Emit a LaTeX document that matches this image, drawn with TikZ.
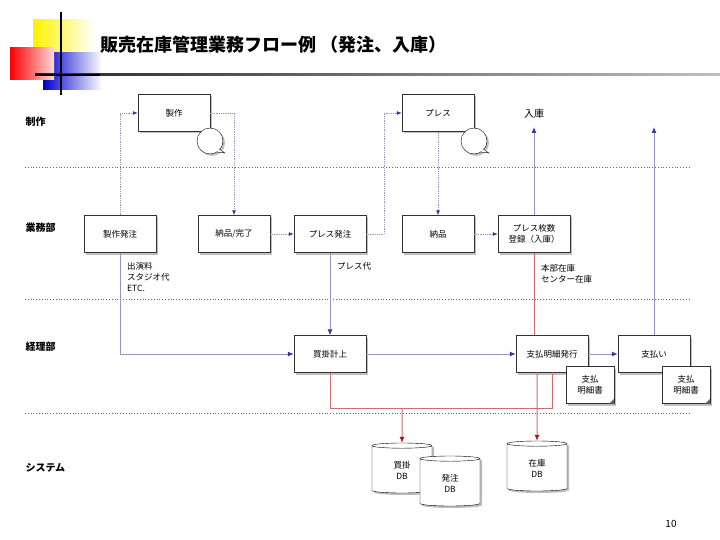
\documentclass[tikz,border=0pt]{standalone}
\usepackage{fontspec}
\setmainfont{Noto Sans CJK JP}
\usetikzlibrary{shapes.geometric,shadows,arrows.meta}
\definecolor{ln}{RGB}{150,150,195}
\definecolor{tipb}{RGB}{55,55,150}
\definecolor{rl}{RGB}{205,110,110}
\definecolor{tipr}{RGB}{170,20,20}
\begin{document}
\begin{tikzpicture}[x=1pt,y=-1pt,
 shd/.style={drop shadow={shadow xshift=2pt,shadow yshift=-2pt,opacity=0.5}},
 box/.style={draw=black!80,fill=white,minimum width=72pt,minimum height=37pt,font=\fontsize{8.5}{11}\selectfont,align=center,shd},
 doc/.style={draw=black!80,fill=white,minimum width=48pt,minimum height=37pt,font=\fontsize{8.5}{11}\selectfont,align=center,shd},
 db/.style={cylinder,shape border rotate=90,aspect=0.22,draw=black,fill=white,minimum width=60pt,minimum height=50pt,font=\fontsize{8.5}{11}\selectfont,align=center,shd},
 dot/.style={draw=ln,densely dotted,thick,-{Latex[length=5pt,width=4pt,color=tipb]}},
 sol/.style={draw=ln,line width=1pt,-{Latex[length=6pt,width=5pt,color=tipb]}},
 red/.style={draw=rl,line width=1pt},
 redarr/.style={draw=rl,line width=1pt,-{Latex[length=6pt,width=5pt,color=tipr]}},
 lane/.style={font=\fontsize{10}{12}\selectfont\bfseries,anchor=west},
 note/.style={font=\fontsize{8.5}{11}\selectfont,anchor=north west,align=left,inner sep=0pt},
 sep/.style={draw=black!60,dotted,thick}]
\useasboundingbox (0,0) rectangle (720,540);
% decoration
\shade[left color=yellow!90!orange,right color=white] (33,20) rectangle (95,55);
\shade[left color=blue!80!black,right color=white] (43,53) rectangle (102,90);
\shade[left color=red,right color=red!15] (10,48) rectangle (54,80);
\draw[line width=1.2pt] (61,12) -- (61,95);
\shade[left color=black!85,right color=black!25] (35,74) rectangle (720,76);
\draw[line width=1.2pt] (35,75) -- (100,75);
\node[anchor=west,font=\fontsize{18}{20}\selectfont\bfseries] (title) at (97,45) {販売在庫管理業務フロー例 （発注、入庫）};
% lanes
\node[lane] (l1) at (22,122) {制作};
\node[lane] (l2) at (22,228) {業務部};
\node[lane] (l3) at (22,347) {経理部};
\node[lane] (l4) at (22,468) {システム};
\draw[sep] (25,167) -- (690,167);
\draw[sep] (25,299) -- (690,299);
\draw[sep] (25,413) -- (690,413);
% boxes
\node[box] (seisaku) at (174,113) {製作};
\node[box] (press) at (438,113) {プレス};
\foreach \c in {210,474}{
 \draw[fill=white,shd] (\c,141) circle (13);
 \draw[fill=white] (\c+9,149) -- (\c+15,153) -- (\c+7,152);
}
\node[box] (hachu) at (120,234) {製作発注};
\node[box] (kanryo) at (234,234) {納品/完了};
\node[box] (phachu) at (330,234) {プレス発注};
\node[box] (nohin) at (438,234) {納品};
\node[box] (toroku) at (534,234) {プレス枚数\\登録（入庫）};
\node[box] (kaikake) at (330,354) {買掛計上};
\node[box] (meisai) at (552,354) {支払明細発行};
\node[box] (shiharai) at (654,354) {支払い};
\node[doc] (doc1) at (590,385) {支払\\明細書};
\node[doc] (doc2) at (686,385) {支払\\明細書};
\foreach \d in {doc1,doc2}{\fill[black!60] ([xshift=-5pt]\d.south east) -- ([yshift=5pt]\d.south east) -- (\d.south east) -- cycle;}
\node[db] (dbk) at (402,470) {買掛\\DB};
\node[db] (dbh) at (450,483) {発注\\DB};
\node[db] (dbz) at (537,468) {在庫\\DB};
% coordinates
\coordinate (nyuko) at (534,127);
\coordinate (top2) at (654,127);
\node[font=\fontsize{10}{12}\selectfont] (nyukol) at (534,114) {入庫};
% dotted flow
\draw[dot] (hachu.north) |- (seisaku.west);
\draw[dot] (seisaku.east) -| (kanryo.north);
\draw[dot] (kanryo) -- (phachu);
\draw[dot] (phachu.east) -- (384,234) |- (press.west);
\draw[dot] (press) -- (nohin);
\draw[dot] (nohin) -- (toroku);
% solid
\draw[sol] (toroku.north) -- (nyuko);
\draw[sol] (hachu.south) |- (kaikake.west);
\draw[sol] (phachu) -- (kaikake);
\draw[sol] (kaikake) -- (meisai);
\draw[sol] (meisai) -- (shiharai);
\draw[sol] (shiharai.north) -- (top2);
% red
\draw[red] (toroku.south) -- (534,335);
\draw[red] (kaikake.south) -- (330,408) -- (552,408) -- (552,372);
\draw[redarr] (402,408) -- (dbk.north);
\draw[redarr] (537,372) -- (dbz.north);
% notes
\node[note] (n1) at (127,262) {出演料\\スタジオ代\\ETC.};
\node[note] (n2) at (337,262) {プレス代};
\node[note] (n3) at (541,264) {本部在庫\\センター在庫};
\node[font=\fontsize{10}{12}\selectfont] (pg) at (671,524) {10};
\end{tikzpicture}
\end{document}
